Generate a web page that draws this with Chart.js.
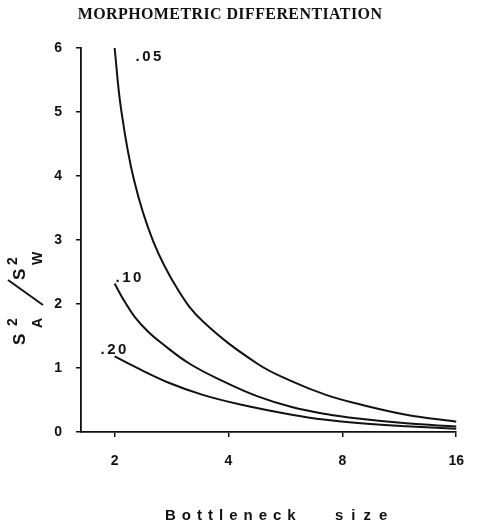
<!DOCTYPE html>
<html>
<head>
<meta charset="utf-8">
<script src="https://cdn.jsdelivr.net/npm/chart.js@4"></script>
<style>
  html, body { margin: 0; padding: 0; background: #fff; }
  canvas { display: block; }
</style>
</head>
<body>
<canvas id="chart" width="480" height="528"></canvas>
<script>
const figureTitle = 'MORPHOMETRIC DIFFERENTIATION';
const xTitleWords = ['Bottleneck', 'size'];
const xTicks = [2, 4, 8, 16];

// one curve per value
const curveLabels = ['.05', '.10', '.20'];
const size05 = [2, 2.08, 2.25, 2.53, 2.95, 3.42, 4.76, 5.89, 7.24, 8.79, 11.8, 16];
const ratio05 = [6.0, 5.05, 3.94, 2.98, 2.21, 1.73, 1.07, 0.79, 0.58, 0.44, 0.27, 0.16];
const size10 = [2, 2.12, 2.26, 2.45, 2.66, 3.15, 3.85, 4.76, 5.88, 7.24, 8.8, 11.8, 16];
const ratio10 = [2.32, 2.05, 1.80, 1.57, 1.39, 1.07, 0.80, 0.56, 0.39, 0.28, 0.21, 0.135, 0.085];
const size20 = [2, 2.35, 2.78, 3.42, 4.3, 5.88, 7.24, 8.79, 11.8, 16];
const ratio20 = [1.18, 0.97, 0.77, 0.58, 0.43, 0.27, 0.19, 0.14, 0.09, 0.05];

const ink = '#111';
const labelOffsets = [[21, 9], [1, -6], [-14, -7]];  // label position relative to first point, px

function toPoints(xs, ys) {
    return xs.map((x, i) => ({ x: x, y: ys[i] }));
}

const figureText = {
    id: 'figureText',
    afterDraw(chart) {
        const ctx = chart.ctx;
        ctx.save();
        ctx.fillStyle = ink;
        ctx.strokeStyle = ink;

        // title
        ctx.font = 'bold 16px "Liberation Serif"';
        ctx.letterSpacing = '0.4px';
        ctx.textAlign = 'center';
        ctx.textBaseline = 'alphabetic';
        ctx.fillText(figureTitle, 230, 19);

        // curve labels
        ctx.font = 'bold 15px "Liberation Sans"';
        ctx.letterSpacing = '2.5px';
        ctx.textAlign = 'left';
        ctx.textBaseline = 'middle';
        curveLabels.forEach((lab, i) => {
            const p = chart.getDatasetMeta(i).data[0];
            ctx.fillText(lab, p.x + labelOffsets[i][0], p.y + labelOffsets[i][1]);
        });

        // x axis title, widely spaced lettering
        ctx.font = 'bold 15px "Liberation Sans"';
        ctx.textBaseline = 'alphabetic';
        ctx.letterSpacing = '6px';
        ctx.fillText(xTitleWords[0], 165, 520);
        ctx.letterSpacing = '8px';
        ctx.fillText(xTitleWords[1], 335, 520);

        // y axis title: S_A^2 / S_W^2, rotated
        ctx.letterSpacing = '0px';
        ctx.translate(25, 345);
        ctx.rotate(-Math.PI / 2);
        ctx.font = 'bold 17px "Liberation Sans"';
        ctx.fillText('S', 0, 0);
        ctx.fillText('S', 65, 0);
        ctx.font = 'bold 14px "Liberation Sans"';
        ctx.fillText('2', 19, -8);
        ctx.fillText('A', 17, 17);
        ctx.fillText('2', 80, -8);
        ctx.fillText('W', 80, 17);
        ctx.restore();

        // fraction slash
        ctx.save();
        ctx.strokeStyle = ink;
        ctx.lineWidth = 2;
        ctx.beginPath();
        ctx.moveTo(8, 280);
        ctx.lineTo(43, 305);
        ctx.stroke();
        ctx.restore();
    }
};

const curveStyle = {
    borderColor: ink,
    borderWidth: 2,
    pointRadius: 0,
    fill: false,
    tension: 0.4,
    clip: 4
};

new Chart(document.getElementById('chart'), {
    type: 'line',
    data: {
        datasets: [
            { label: curveLabels[0], data: toPoints(size05, ratio05), ...curveStyle },
            { label: curveLabels[1], data: toPoints(size10, ratio10), ...curveStyle },
            { label: curveLabels[2], data: toPoints(size20, ratio20), ...curveStyle }
        ]
    },
    options: {
        responsive: false,
        animation: false,
        layout: { padding: { top: 48, right: 18, bottom: 0, left: 0 } },
        plugins: {
            legend: { display: false },
            tooltip: { enabled: false }
        },
        scales: {
            x: {
                type: 'logarithmic',
                min: 1.63,
                max: 16,
                afterBuildTicks: scale => { scale.ticks = xTicks.map(v => ({ value: v })); },
                afterFit: scale => { scale.height = 96; },
                grid: { drawOnChartArea: false, drawTicks: true, tickLength: 5, color: ink, lineWidth: 1.5 },
                border: { display: true, color: ink, width: 1.8 },
                ticks: {
                    color: ink,
                    padding: 16,
                    maxRotation: 0,
                    autoSkip: false,
                    font: { family: 'Liberation Sans', size: 14, weight: 'bold' },
                    callback: v => String(v)
                }
            },
            y: {
                min: 0,
                max: 6,
                afterFit: scale => { scale.width = 81; },
                grid: { drawOnChartArea: false, drawTicks: true, tickLength: 5, color: ink, lineWidth: 1.5 },
                border: { display: true, color: ink, width: 1.8 },
                ticks: {
                    stepSize: 1,
                    color: ink,
                    padding: 14,
                    font: { family: 'Liberation Sans', size: 14, weight: 'bold' }
                }
            }
        }
    },
    plugins: [figureText]
});
</script>
</body>
</html>
